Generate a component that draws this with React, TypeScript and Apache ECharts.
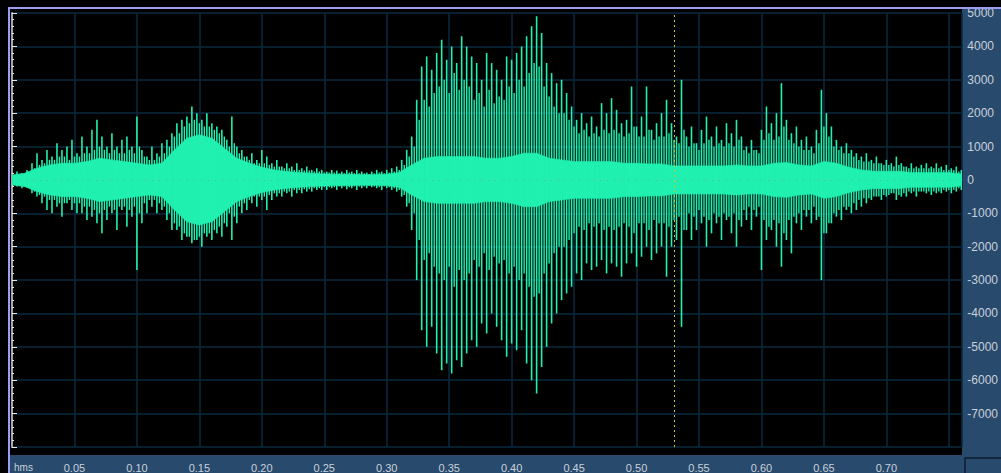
import React, { useEffect, useRef } from "react";
import * as echarts from "echarts";

// ---- data ----
const SAMPLE_STEP = 0.004; // seconds between spike samples
const MID_OFFSET = 0.002; // mid spikes sit halfway between main spikes
const BODY_STEP = 0.01; // seconds between body-envelope samples
const CURSOR_TIME = 0.53;
const TIME_MAX = 0.76;

const spikeHigh = [
  150, 250, 200, 300, 500, 800, 600, 900, 700, 1100,
  900, 1000, 1200, 800, 1300, 1000, 1500, 1800, 1300, 1000,
  1400, 1000, 1200, 1300, 1000, 1900, 900, 700, 1000, 800,
  1100, 1200, 1400, 1700, 1800, 1900, 2200, 2000, 1800, 2000,
  1700, 1600, 1500, 1200, 1900, 1000, 900, 700, 800, 600,
  900, 700, 500, 600, 400, 500, 400, 500, 350, 400,
  300, 350, 300, 250, 300, 280, 250, 300, 250, 300,
  250, 220, 250, 300, 250, 300, 350, 400, 600, 900,
  1300, 2400, 3400, 3700, 3300, 3800, 4200, 3600, 4000, 3500,
  4300, 4000, 3700, 3500, 3000, 3800, 3500, 3300, 3000, 3700,
  3600, 3800, 4000, 4300, 4600, 4900, 4400, 3500, 3200, 2900,
  3000, 2600, 2200, 1800, 2000, 1700, 1900, 1600, 2300, 2000,
  2450, 2100, 1700, 1800, 2800, 1600, 1900, 2800, 1500, 1700,
  2000, 2400, 1700, 1300, 3000, 1300, 1600, 1100, 1500, 1900,
  1300, 1600, 1200, 1700, 1400, 1800, 1300, 1000, 1200, 900,
  1500, 2200, 1700, 2000, 2900, 1800, 1400, 1600, 1200, 1300,
  1000, 1500, 2700, 2000, 1600, 1200, 1000, 1100, 900, 800,
  700, 800, 600, 700, 500, 600, 500, 700, 500, 400,
  500, 400, 450, 500, 400, 500, 400, 450, 350, 400,
  300,
];

const spikeLow = [
  -150, -200, -250, -200, -400, -500, -700, -900, -1000, -800,
  -1100, -700, -900, -1000, -1000, -1200, -1100, -1300, -1600, -1200,
  -1000, -1500, -900, -1400, -1100, -2700, -1300, -1000, -800, -1000,
  -900, -1200, -1500, -1500, -1800, -1700, -1900, -1800, -2000, -1700,
  -1800, -1600, -1700, -1400, -1800, -1300, -1000, -900, -700, -800,
  -600, -900, -600, -500, -500, -400, -500, -400, -400, -350,
  -350, -300, -300, -300, -250, -300, -250, -280, -250, -300,
  -250, -250, -220, -250, -300, -250, -300, -350, -500, -800,
  -1500, -3000, -4500, -5000, -4400, -5200, -5700, -5500, -5800, -5400,
  -5600, -5200, -4800, -5000, -4300, -4600, -4000, -4400, -4800, -5300,
  -4900, -5100, -4500, -5500, -6000, -6400, -5600, -5000, -4300, -4000,
  -3600, -3400, -3200, -2800, -3000, -2500, -2700, -2600, -2400, -2800,
  -2500, -2600, -2900, -2500, -2200, -2600, -2300, -2000, -2400, -2200,
  -2000, -2900, -2000, -1800, -4400, -1500, -1800, -1500, -1300, -2000,
  -1600, -1300, -1800, -1200, -1600, -2000, -1400, -1200, -1500, -1100,
  -2700, -1800, -1500, -2000, -2600, -1800, -2200, -1300, -1500, -1100,
  -1300, -1200, -3000, -1600, -1300, -1100, -1200, -900, -1000, -900,
  -800, -700, -600, -500, -600, -500, -400, -600, -500, -500,
  -400, -500, -350, -400, -450, -400, -400, -350, -400, -350,
  -300,
];

// amplitude of the smaller strokes between the main spikes
const midAmp = [
  100, 150, 150, 200, 350, 450, 500, 600, 600, 700,
  700, 600, 700, 700, 800, 800, 900, 1000, 900, 800,
  900, 800, 800, 900, 800, 1000, 700, 600, 600, 700,
  800, 1000, 1300, 1400, 1600, 1700, 1800, 1700, 1600, 1600,
  1500, 1400, 1300, 1000, 1100, 800, 700, 600, 500, 500,
  500, 450, 400, 400, 350, 350, 300, 300, 280, 280,
  250, 250, 220, 220, 220, 200, 200, 220, 200, 200,
  200, 180, 200, 220, 200, 220, 250, 300, 450, 700,
  1000, 1800, 2400, 2200, 2600, 2800, 3000, 2600, 3200, 2700,
  3000, 2800, 2400, 2600, 2200, 2700, 2300, 2500, 2400, 2800,
  2600, 3000, 2800, 3200, 3500, 3400, 2800, 2500, 2200, 2000,
  2000, 1800, 1600, 1400, 1500, 1300, 1400, 1300, 1500, 1400,
  1500, 1400, 1300, 1400, 1600, 1300, 1300, 1500, 1200, 1300,
  1300, 1400, 1200, 1100, 1500, 1000, 1100, 900, 1100, 1200,
  1000, 1100, 1000, 1100, 1000, 1200, 900, 800, 900, 800,
  1200, 1400, 1200, 1300, 1600, 1200, 1100, 1000, 900, 900,
  800, 1100, 1600, 1300, 1000, 900, 800, 800, 700, 600,
  550, 550, 500, 500, 450, 450, 400, 450, 400, 350,
  350, 350, 350, 350, 350, 350, 300, 300, 300, 250,
];

const bodyAmp = [
  150, 200, 350, 450, 500, 500, 550, 650, 600, 550,
  500, 450, 500, 900, 1250, 1350, 1250, 950, 650, 500,
  380, 300, 250, 220, 200, 180, 170, 170, 160, 160,
  170, 220, 450, 650, 700, 700, 700, 700, 650, 650,
  700, 800, 800, 650, 600, 550, 550, 550, 550, 500,
  500, 480, 480, 420, 420, 420, 420, 420, 450, 420,
  420, 500, 520, 450, 420, 550, 500, 380, 300, 260,
  260, 260, 220, 220, 220, 220, 180,
];

const Y_MIN = -8000;
const Y_MAX = 5000;
const Y_INTERVAL = 1000;
const X_INTERVAL = 0.05;

// ---- styles ----
const WAVE = "#20f0b0";
const PANEL = "#284a6c";
const GRID = "#0a2a3e";
const LABEL = "#c8d0dc";
const AXIS_LINE = "#a4a8ac";
const FRAME = "#9c9cf0";
const FONT = "Liberation Sans, Arial, sans-serif";

const strokeItem = (width: number) => (_p: any, api: any) => {
  const t = api.value(0);
  const top = api.coord([t, api.value(2)]);
  const bot = api.coord([t, api.value(1)]);
  return {
    type: "rect",
    shape: { x: top[0] - width / 2, y: top[1], width, height: bot[1] - top[1] },
    style: { fill: WAVE },
  };
};

export default function App() {
  const ref = useRef<HTMLDivElement>(null);

  useEffect(() => {
    if (!ref.current) return;
    const chart = echarts.init(ref.current, null, { renderer: "svg" });

    const spikeData = spikeHigh.map((h, i) => [i * SAMPLE_STEP, spikeLow[i], h]);
    const midData = midAmp.map((a, i) => [i * SAMPLE_STEP + MID_OFFSET, -a, a]);
    const bodyData = bodyAmp.slice(0, -1).map((a, i) => [
      i * BODY_STEP,
      a,
      (i + 1) * BODY_STEP,
      bodyAmp[i + 1],
    ]);

    chart.setOption({
      animation: false,
      backgroundColor: "#000000",
      grid: { left: 12, right: 39, top: 13, bottom: 25 },
      xAxis: {
        type: "value",
        min: 0,
        max: TIME_MAX,
        interval: X_INTERVAL,
        offset: 7,
        axisLine: { show: true, lineStyle: { color: AXIS_LINE, width: 2 } },
        axisTick: { show: true, length: 6, lineStyle: { color: "#e8e8e8", width: 1 } },
        minorTick: { show: true, splitNumber: 5, length: 3, lineStyle: { color: "#e8e8e8", width: 1 } },
        splitLine: { show: true, lineStyle: { color: GRID, width: 1.5 } },
        minorSplitLine: { show: false },
        axisLabel: {
          color: LABEL,
          fontSize: 11,
          fontFamily: FONT,
          margin: 8,
          formatter: (v: number) => {
            if (v < 0.001 || v > 0.745) return "";
            return v.toFixed(2);
          },
        },
      },
      yAxis: {
        type: "value",
        position: "right",
        min: Y_MIN,
        max: Y_MAX,
        interval: Y_INTERVAL,
        axisLine: { show: true, lineStyle: { color: AXIS_LINE, width: 2 } },
        axisTick: { show: true, length: 5, lineStyle: { color: "#e8e8e8", width: 1 } },
        minorTick: { show: true, splitNumber: 5, length: 2, lineStyle: { color: "#e8e8e8", width: 1 } },
        splitLine: { show: true, lineStyle: { color: GRID, width: 1.5 } },
        axisLabel: {
          color: LABEL,
          fontSize: 12,
          fontFamily: FONT,
          margin: 6,
          formatter: (v: number) => (v <= Y_MIN ? "" : String(v)),
        },
      },
      series: [
        {
          type: "custom",
          z: 3,
          silent: true,
          clip: true,
          encode: { x: [0, 2], y: [1, 3] },
          data: bodyData,
          renderItem: (_p: any, api: any) => {
            const t0 = api.value(0);
            const a0 = api.value(1);
            const t1 = api.value(2);
            const a1 = api.value(3);
            const p1 = api.coord([t0, a0]);
            const p2 = api.coord([t1, a1]);
            const p3 = api.coord([t1, -a1]);
            const p4 = api.coord([t0, -a0]);
            return {
              type: "polygon",
              shape: { points: [p1, p2, p3, p4] },
              style: { fill: WAVE, stroke: WAVE, lineWidth: 0.6 },
            };
          },
        },
        {
          type: "custom",
          z: 4,
          silent: true,
          clip: true,
          encode: { x: 0, y: [1, 2] },
          data: midData,
          renderItem: strokeItem(1.4),
        },
        {
          type: "custom",
          z: 4,
          silent: true,
          clip: true,
          encode: { x: 0, y: [1, 2] },
          data: spikeData,
          renderItem: strokeItem(1.6),
        },
        {
          type: "line",
          z: 6,
          data: [],
          silent: true,
          markLine: {
            symbol: "none",
            silent: true,
            label: { show: false },
            data: [
              { yAxis: 0, lineStyle: { color: "#c8643a", type: [1, 6], width: 1, opacity: 0.45 } },
              { xAxis: CURSOR_TIME, lineStyle: { color: "#c8c828", type: [2, 3], width: 1, opacity: 1 } },
            ],
          },
        },
      ],
      graphic: [
        { type: "rect", z: -1, shape: { x: 962, y: 9, width: 39, height: 464 }, style: { fill: PANEL } },
        { type: "rect", z: -1, shape: { x: 10, y: 455, width: 952, height: 18 }, style: { fill: PANEL } },
        {
          type: "rect",
          z: 1,
          shape: { x: 965, y: 458, width: 40, height: 20 },
          style: { fill: "none", stroke: "#0e1a30", lineWidth: 1.5 },
        },
        { type: "rect", z: 20, shape: { x: 8, y: 7, width: 993, height: 2 }, style: { fill: FRAME } },
        { type: "rect", z: 20, shape: { x: 8, y: 7, width: 2, height: 466 }, style: { fill: FRAME } },
        {
          type: "text",
          z: 5,
          x: 14,
          y: 462,
          style: {
            text: "hms",
            fill: LABEL,
            fontSize: 10,
            fontFamily: FONT,
          },
        },
      ],
    });

    return () => chart.dispose();
  }, []);

  return <div ref={ref} style={{ width: 1001, height: 473, position: "fixed", left: 0, top: 0 }} />;
}
